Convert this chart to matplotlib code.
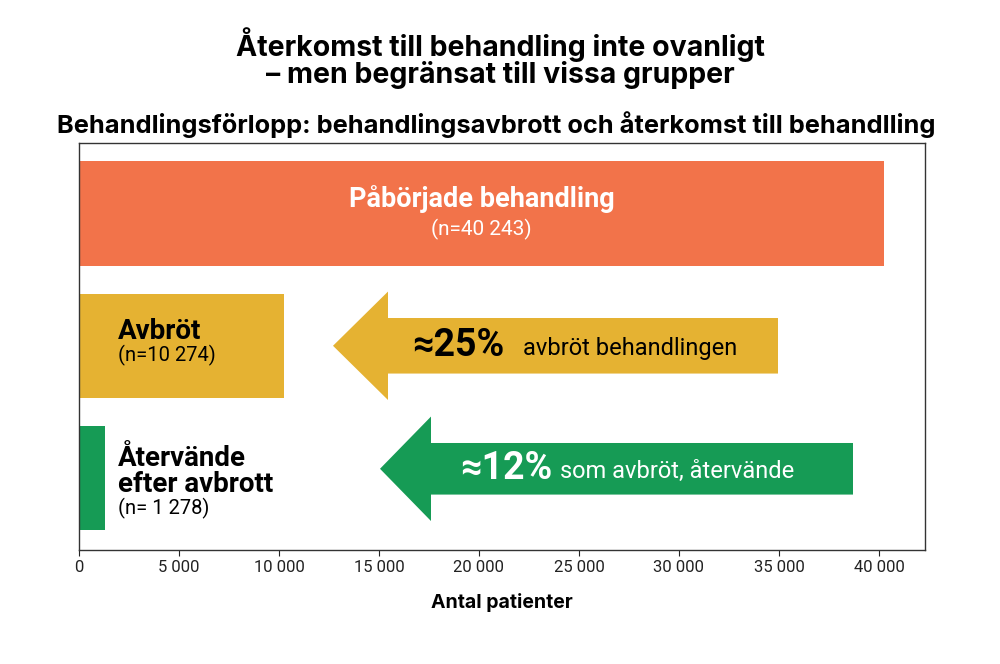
import matplotlib
matplotlib.use("Agg")
import matplotlib.pyplot as plt
from matplotlib.patches import FancyArrow
from matplotlib.ticker import FuncFormatter

# ---- data ----
categories = ["Påbörjade behandling", "Avbröt", "Återvände\nefter avbrott"]
values = [40243, 10274, 1278]
n_labels = ["(n=40 243)", "(n=10 274)", "(n= 1 278)"]
colors = ["#F2734A", "#E5B232", "#169B55"]
xticks = [0, 5000, 10000, 15000, 20000, 25000, 30000, 35000, 40000]
arrow_pct = ["≈25%", "≈12%"]
arrow_text = ["avbröt behandlingen", "som avbröt, återvände"]

title = "Återkomst till behandling inte ovanligt\n– men begränsat till vissa grupper"
subtitle = "Behandlingsförlopp: behandlingsavbrott och återkomst till behandlling"
xlabel = "Antal patienter"

FONT = ["Inter", "DejaVu Sans"]
BODY = ["Roboto", "DejaVu Sans"]

fig = plt.figure(figsize=(10, 6.64), dpi=100)
ax = fig.add_axes([0.079, 0.1717, 0.846, 0.6129])

ypos = list(range(len(values)))
ax.barh(ypos, values, height=0.79, color=colors, zorder=2)
ax.set_ylim(2.544, -0.533)
ax.set_xlim(0, 42300)
ax.set_yticks([])
ax.set_xticks(xticks)
ax.xaxis.set_major_formatter(FuncFormatter(lambda v, p: f"{int(v):,}".replace(",", " ")))
for lab in ax.get_xticklabels():
    lab.set_family(BODY)
ax.tick_params(axis="x", labelsize=12, colors="#222222", length=4, width=0.8, pad=3)
for s in ax.spines.values():
    s.set_color("#333333")
    s.set_linewidth(1.0)

# Bar labels
ax.text(values[0] / 2, ypos[0] - 0.11, categories[0], ha="center", va="center",
        color="white", fontsize=19.5, fontweight="bold", family=BODY)
ax.text(values[0] / 2, ypos[0] + 0.12, n_labels[0], ha="center", va="center",
        color="white", fontsize=15, family=BODY)

ax.text(1950, ypos[1] - 0.11, categories[1], ha="left", va="center",
        color="black", fontsize=20, fontweight="bold", family=BODY)
ax.text(1950, ypos[1] + 0.07, n_labels[1], ha="left", va="center",
        color="black", fontsize=14.5, family=BODY)

ax.text(1950, ypos[2] - 0.05, categories[2], ha="left", va="center",
        color="black", fontsize=20, fontweight="bold", family=BODY, linespacing=0.95)
ax.text(1950, ypos[2] + 0.23, n_labels[2], ha="left", va="center",
        color="black", fontsize=14.5, family=BODY)

# Arrows (layout)
arrows = [
    dict(tail=34950, tip=12700, y=1.0, w=0.42, hw=0.82, hl=2750, c=colors[1],
         tc="black", px=16650, tx=22200),
    dict(tail=38700, tip=15050, y=1.93, w=0.39, hw=0.79, hl=2550, c=colors[2],
         tc="white", px=19050, tx=24050),
]
for a, pct, txt in zip(arrows, arrow_pct, arrow_text):
    ax.add_patch(FancyArrow(a["tail"], a["y"], a["tip"] - a["tail"], 0, width=a["w"],
                            head_width=a["hw"], head_length=a["hl"],
                            length_includes_head=True, color=a["c"], lw=0, zorder=3))
    ax.text(a["px"], a["y"], pct, ha="left", va="center", color=a["tc"],
            fontsize=27, fontweight="bold", family=BODY, zorder=4)
    ax.text(a["tx"], a["y"] + 0.02, txt, ha="left", va="center", color=a["tc"],
            fontsize=17, family=BODY, zorder=4)

ax.set_xlabel(xlabel, fontsize=14, fontweight="bold", family=FONT, labelpad=13)

fig.text(0.5, 0.9127, title, ha="center", va="center", fontsize=20.5,
         fontweight="bold", family=FONT, linespacing=0.98)
fig.text(0.4965, 0.812, subtitle, ha="center", va="center", fontsize=18.3,
         fontweight="bold", family=FONT)

fig.savefig("out.png", dpi=100)
